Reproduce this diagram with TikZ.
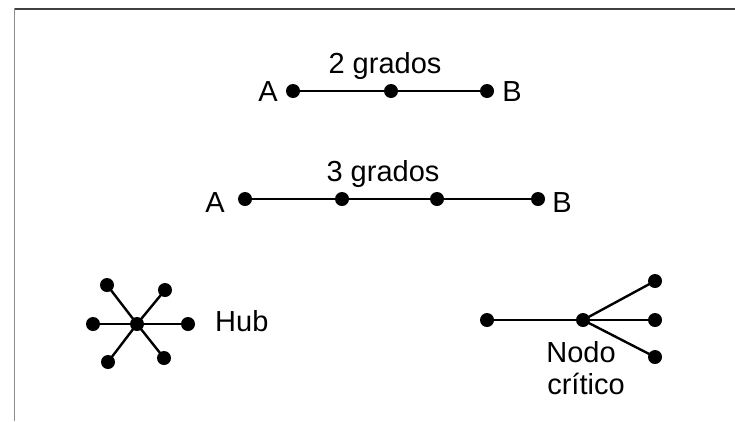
\documentclass[tikz,border=0pt]{standalone}
\usepackage{fontspec}
\setmainfont{Liberation Sans}
\begin{document}
\begin{tikzpicture}[x=1pt,y=-1pt,
  dot/.style={circle,fill=black,inner sep=0pt,minimum size=14pt},
  lbl/.style={anchor=base,inner sep=0pt,font=\fontsize{29}{34}\selectfont},
  edge/.style={line width=2.4pt}]
\useasboundingbox (0,0) rectangle (735,421);
\fill[white] (0,0) rectangle (735,421);
\draw[line width=2pt,black!75] (14,8.5) -- (735,8.5);
\draw[line width=1.8pt,black!45] (14.5,8) -- (14.5,421);
% 2 grados
\node[lbl] (t2) at (385,73) {2 grados};
\node[dot] (a1) at (293,91) {};
\node[dot] (m1) at (391,91) {};
\node[dot] (b1) at (487,91) {};
\node[lbl] (la1) at (268,101) {A};
\node[lbl] (lb1) at (512,101) {B};
\draw[edge] (a1) -- (m1) -- (b1);
% 3 grados
\node[lbl] (t3) at (383,181) {3 grados};
\node[dot] (a2) at (245,199) {};
\node[dot] (m2) at (342,199) {};
\node[dot] (n2) at (437,199) {};
\node[dot] (b2) at (538,199) {};
\node[lbl] (la2) at (215,212) {A};
\node[lbl] (lb2) at (562,212) {B};
\draw[edge] (a2) -- (m2) -- (n2) -- (b2);
% Hub
\node[dot] (h) at (137,324) {};
\node[dot] (h1) at (107,285) {};
\node[dot] (h2) at (165,290) {};
\node[dot] (h3) at (93,324) {};
\node[dot] (h4) at (188,324) {};
\node[dot] (h5) at (108,362) {};
\node[dot] (h6) at (164,358) {};
\foreach \i in {1,...,6} \draw[edge] (h.center) -- (h\i.center);
\node[lbl,anchor=base west] (hub) at (215,331) {Hub};
% Nodo critico
\node[dot] (c0) at (487,320) {};
\node[dot] (c) at (583,320) {};
\node[dot] (c1) at (655,281) {};
\node[dot] (c2) at (655,320) {};
\node[dot] (c3) at (655,357) {};
\foreach \i in {0,1,2,3} \draw[edge] (c.center) -- (c\i.center);
\node[lbl] (nodo) at (581,362) {Nodo};
\node[lbl] (crit) at (586,394) {crítico};
\end{tikzpicture}
\end{document}
